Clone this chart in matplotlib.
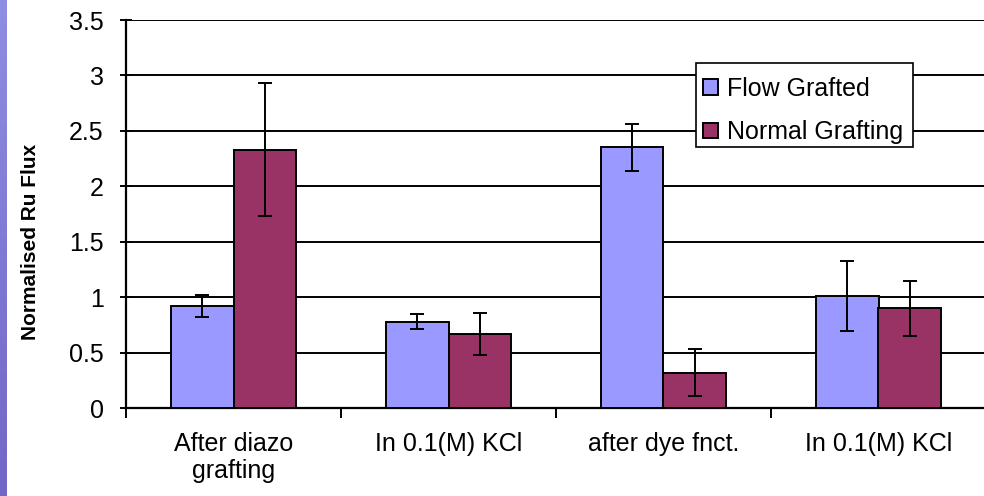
import matplotlib
matplotlib.use("Agg")
import matplotlib.pyplot as plt
import numpy as np
from matplotlib.colors import LinearSegmentedColormap
from matplotlib.patches import Rectangle

categories = ["After diazo\ngrafting", "In 0.1(M) KCl", "after dye fnct.", "In 0.1(M) KCl"]
series_names = ["Flow Grafted", "Normal Grafting"]
flow_vals = [0.92, 0.78, 2.35, 1.01]
flow_err = [0.10, 0.07, 0.215, 0.315]
normal_vals = [2.33, 0.67, 0.32, 0.90]
normal_err = [0.60, 0.19, 0.215, 0.25]
yticks = [0, 0.5, 1, 1.5, 2, 2.5, 3, 3.5]
ytick_labels = ["0", "0.5", "1", "1.5", "2", "2.5", "3", "3.5"]

plt.rcParams['font.family'] = ['Liberation Sans', 'DejaVu Sans']

W, H = 984, 496
fig = plt.figure(figsize=(W / 100, H / 100), dpi=100)

# left decorative gradient strip
sax = fig.add_axes([0, 0, 7 / W, 1])
grad = np.linspace(0, 1, 256).reshape(-1, 1)
cmap = LinearSegmentedColormap.from_list("strip", ["#8e8ee2", "#7266c6"])
sax.imshow(grad, aspect="auto", cmap=cmap, extent=[0, 1, 0, 1], origin="upper")
sax.axis("off")

AX_L, AX_B, AX_W, AX_H = 126, 88, 860, 388
ax = fig.add_axes([AX_L / W, AX_B / H, AX_W / W, AX_H / H])
x = np.arange(len(categories))
bw = 0.289
err_kw = dict(ecolor="black", elinewidth=1.4, capsize=5, capthick=1.4)
ax.bar(x - bw / 2, flow_vals, bw, yerr=flow_err, color="#9999FF", edgecolor="black",
       linewidth=1.4, label=series_names[0], error_kw=err_kw, zorder=3)
ax.bar(x + bw / 2, normal_vals, bw, yerr=normal_err, color="#993366", edgecolor="black",
       linewidth=1.4, label=series_names[1], error_kw=err_kw, zorder=3)

ax.set_ylim(0, 3.5)
ax.set_xlim(-0.5, 3.5)
ax.set_yticks(yticks)
ax.set_yticklabels(ytick_labels, fontsize=18)
ax.yaxis.grid(True, color="black", linewidth=1.4, zorder=0)
ax.set_axisbelow(True)

ax.set_xticks(x)
ax.set_xticklabels(categories, fontsize=18)
ax.tick_params(axis="x", length=0, pad=17)
ax.set_xticks(np.arange(len(categories) + 1) - 0.5, minor=True)
ax.tick_params(axis="x", which="minor", length=7, width=1.4, direction="out")
ax.tick_params(axis="y", length=8, width=1.4, direction="inout", pad=12)

for s in ["top", "right"]:
    ax.spines[s].set_visible(False)
for s in ["left", "bottom"]:
    ax.spines[s].set_linewidth(1.6)

ax.set_ylabel("Normalised Ru Flux", fontsize=15, fontweight="bold")
ax.yaxis.set_label_coords((40 - AX_L) / AX_W, (408 - 242) / AX_H)


def px_to_ax(px, py):
    return (px - AX_L) / AX_W, (408 - py) / AX_H


# legend frame (drawn separately so text can sit like in the reference)
fx0, fy0 = px_to_ax(696, 147)
fx1, fy1 = px_to_ax(913, 63)
ax.add_patch(Rectangle((fx0, fy0), fx1 - fx0, fy1 - fy0, transform=ax.transAxes,
                       facecolor="white", edgecolor="black", linewidth=1.2,
                       zorder=4, clip_on=False))

leg = ax.legend(loc="upper left", bbox_to_anchor=px_to_ax(696, 69),
                fontsize=18, frameon=False,
                handlelength=0.6, handleheight=0.6, handletextpad=0.35,
                labelspacing=0.79, borderpad=0.3, borderaxespad=0)
leg.set_zorder(5)

fig.savefig("out.png", dpi=100, facecolor="white")
